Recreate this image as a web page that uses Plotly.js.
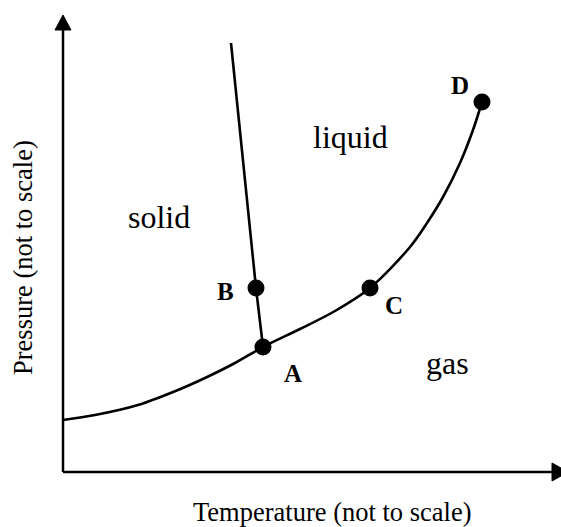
<!DOCTYPE html>
<html>
<head>
<meta charset="utf-8">
<script src="https://cdn.plot.ly/plotly-3.0.1.min.js"></script>
<style>html,body{margin:0;padding:0;background:#fff;}#chart{width:561px;height:527px;}</style>
</head>
<body>
<div id="chart"></div>
<script>
// Liquid–gas boundary (temperature, pressure), not to scale
const vapT = [0, 32, 75, 115, 142, 172, 200, 237, 272, 307, 347, 364, 380, 397, 410, 419];
const vapP = [52, 57, 67, 82, 94, 109, 125, 143, 161, 184, 225, 249, 275, 309, 342, 370];
// Solid–liquid boundary
const fusT = [168, 193, 200];
const fusP = [429, 184, 125];
// Labelled points
const ptNames = ["A", "B", "C", "D"];
const ptT = [200, 193, 307, 419];
const ptP = [125, 184, 184, 370];
// Label positions
const lblT = [230, 162, 331, 397];
const lblP = [99, 181, 167, 387];
const regionNames = ["solid", "liquid", "gas"];
const regionT = [96, 287, 384];
const regionP = [255, 335, 109];
const xTitle = "Temperature (not to scale)";
const yTitle = "Pressure (not to scale)";

const serif = "Liberation Serif, Times New Roman, serif";
const traces = [
  {x: vapT, y: vapP, mode: "lines", line: {color: "#000", width: 2.6, shape: "spline", smoothing: 0.9}, hoverinfo: "skip"},
  {x: fusT, y: fusP, mode: "lines", line: {color: "#000", width: 2.6}, hoverinfo: "skip"},
  {x: ptT, y: ptP, mode: "markers", marker: {color: "#000", size: 17}, hoverinfo: "skip"}
];

const annotations = [];
ptNames.forEach((n, i) => annotations.push({x: lblT[i], y: lblP[i], text: "<b>" + n + "</b>", showarrow: false,
  font: {family: serif, size: 25, color: "#000"}, xanchor: "center", yanchor: "middle"}));
regionNames.forEach((n, i) => annotations.push({x: regionT[i], y: regionP[i], text: n, showarrow: false,
  font: {family: serif, size: 32, color: "#000"}, xanchor: "center", yanchor: "middle"}));
annotations.push({x: 269, y: -40, text: xTitle, showarrow: false, font: {family: serif, size: 26.5, color: "#000"}, xanchor: "center", yanchor: "middle"});
annotations.push({x: -40, y: 214, text: yTitle, showarrow: false, textangle: -90, font: {family: serif, size: 26.5, color: "#000"}, xanchor: "center", yanchor: "middle"});

const shapes = [
  {type: "line", x0: 0, y0: 0, x1: 490, y1: 0, line: {color: "#000", width: 2.5}},
  {type: "line", x0: 0, y0: 0, x1: 0, y1: 443, line: {color: "#000", width: 2.5}},
  {type: "path", path: "M 489 9 L 505 0 L 489 -9 Z", fillcolor: "#000", line: {color: "#000", width: 1}},
  {type: "path", path: "M -8 442 L 0 457 L 8 442 Z", fillcolor: "#000", line: {color: "#000", width: 1}}
];

const layout = {
  width: 561, height: 527,
  margin: {l: 0, r: 0, t: 0, b: 0},
  paper_bgcolor: "#fff", plot_bgcolor: "#fff",
  showlegend: false,
  xaxis: {range: [-63, 498], visible: false, fixedrange: true},
  yaxis: {range: [-55, 472], visible: false, fixedrange: true},
  annotations: annotations,
  shapes: shapes
};
Plotly.newPlot("chart", traces, layout, {displayModeBar: false, staticPlot: true});
</script>
</body>
</html>
